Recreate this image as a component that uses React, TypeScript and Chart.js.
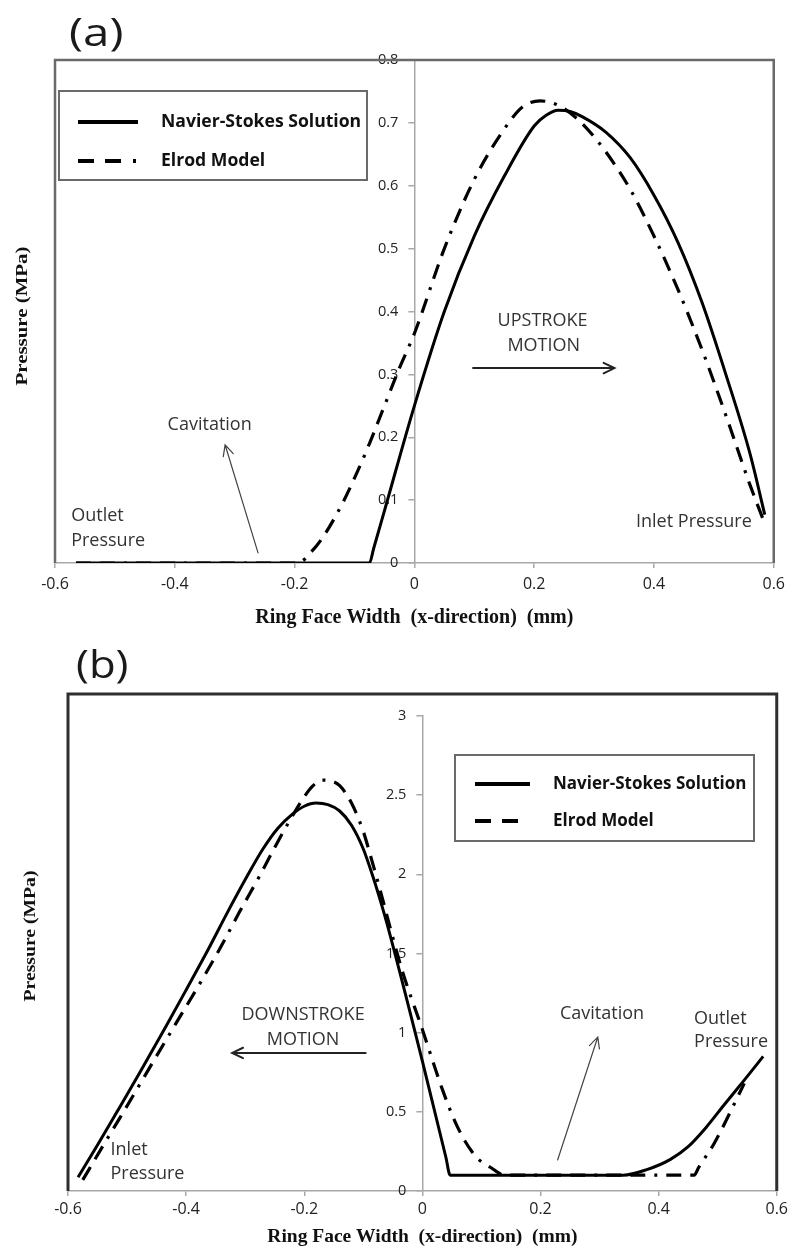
import React, { useEffect, useRef } from "react";
import { Chart, registerables } from "chart.js";

Chart.register(...registerables);

// ---------- Panel (a): upstroke ----------
const nsUpX = [-0.565, -0.075, -0.068, -0.05, 0, 0.05, 0.1, 0.15, 0.2, 0.22, 0.24, 0.26, 0.28, 0.32, 0.36, 0.4, 0.44, 0.48, 0.52, 0.56, 0.585];
const nsUpP = [0, 0, 0.023, 0.083, 0.25, 0.4, 0.52, 0.615, 0.695, 0.712, 0.72, 0.718, 0.71, 0.685, 0.645, 0.585, 0.51, 0.415, 0.3, 0.175, 0.077];
const elUpX = [-0.565, -0.195, -0.17, -0.15, -0.12, -0.1, -0.075, -0.05, -0.025, 0, 0.05, 0.1, 0.15, 0.18, 0.21, 0.24, 0.27, 0.3, 0.33, 0.36, 0.4, 0.44, 0.48, 0.52, 0.56, 0.582];
const elUpP = [0, 0, 0.02, 0.045, 0.095, 0.135, 0.19, 0.25, 0.31, 0.365, 0.5, 0.61, 0.69, 0.725, 0.735, 0.728, 0.708, 0.678, 0.64, 0.595, 0.52, 0.435, 0.34, 0.235, 0.125, 0.07];

// ---------- Panel (b): downstroke ----------
const nsDnX = [-0.583, -0.55, -0.517, -0.475, -0.434, -0.4, -0.362, -0.33, -0.298, -0.27, -0.245, -0.22, -0.2, -0.18, -0.16, -0.14, -0.12, -0.1, -0.085, -0.07, -0.06, 0, 0.04, 0.047, 0.34, 0.38, 0.42, 0.45, 0.48, 0.51, 0.545, 0.577];
const nsDnP = [0.087, 0.29, 0.5, 0.77, 1.04, 1.27, 1.53, 1.76, 1.98, 2.16, 2.29, 2.38, 2.43, 2.45, 2.44, 2.4, 2.31, 2.16, 2.0, 1.82, 1.69, 0.82, 0.21, 0.1, 0.1, 0.135, 0.2, 0.28, 0.4, 0.54, 0.7, 0.85];
const elDnX = [-0.575, -0.54, -0.506, -0.46, -0.417, -0.38, -0.34, -0.31, -0.277, -0.25, -0.223, -0.2, -0.185, -0.17, -0.155, -0.14, -0.12, -0.1, -0.085, -0.07, -0.05, -0.034, 0, 0.034, 0.06, 0.09, 0.115, 0.14, 0.46, 0.468, 0.494, 0.528, 0.545];
const elDnP = [0.07, 0.29, 0.5, 0.79, 1.06, 1.29, 1.55, 1.76, 1.98, 2.17, 2.35, 2.49, 2.56, 2.595, 2.59, 2.56, 2.45, 2.27, 2.08, 1.88, 1.6, 1.39, 1.02, 0.64, 0.4, 0.22, 0.15, 0.1, 0.1, 0.15, 0.3, 0.55, 0.68];

// ---------- Tick labels ----------
const xTickVals = [-0.6, -0.4, -0.2, 0, 0.2, 0.4, 0.6];
const yTickValsA = [0, 0.1, 0.2, 0.3, 0.4, 0.5, 0.6, 0.7, 0.8];
const yTickValsB = [0, 0.5, 1, 1.5, 2, 2.5, 3];

const seriesNames = ["Navier-Stokes Solution", "Elrod Model"];
const xTitle = "Ring Face Width  (x-direction)  (mm)";
const yTitle = "Pressure (MPa)";

type Note = { text: string; x: number; y: number; align: CanvasTextAlign };
type Arrow = { x1: number; y1: number; x2: number; y2: number; width: number; color: string };

const notesA: Note[] = [
  { text: "Outlet", x: -0.573, y: 0.075, align: "left" },
  { text: "Pressure", x: -0.573, y: 0.035, align: "left" },
  { text: "Cavitation", x: -0.412, y: 0.219, align: "left" },
  { text: "UPSTROKE", x: 0.214, y: 0.385, align: "center" },
  { text: "MOTION", x: 0.216, y: 0.345, align: "center" },
  { text: "Inlet Pressure", x: 0.37, y: 0.0655, align: "left" },
];
const arrowsA: Arrow[] = [
  { x1: -0.261, y1: 0.016, x2: -0.316, y2: 0.188, width: 1.2, color: "#444" },
  { x1: 0.098, y1: 0.31, x2: 0.334, y2: 0.31, width: 2, color: "#222" },
];
const notesB: Note[] = [
  { text: "Inlet", x: -0.528, y: 0.259, align: "left" },
  { text: "Pressure", x: -0.528, y: 0.107, align: "left" },
  { text: "DOWNSTROKE", x: -0.202, y: 1.11, align: "center" },
  { text: "MOTION", x: -0.202, y: 0.954, align: "center" },
  { text: "Cavitation", x: 0.233, y: 1.118, align: "left" },
  { text: "Outlet", x: 0.46, y: 1.086, align: "left" },
  { text: "Pressure", x: 0.46, y: 0.941, align: "left" },
];
const arrowsB: Arrow[] = [
  { x1: -0.096, y1: 0.872, x2: -0.322, y2: 0.872, width: 2, color: "#222" },
  { x1: 0.229, y1: 0.196, x2: 0.297, y2: 0.973, width: 1.2, color: "#444" },
];

interface LegendSpec {
  box: [number, number, number, number];
  sampleX: [number, number];
  rows: [number, number];
  textX: number;
  textSize: number;
}

interface PanelSpec {
  tag: string;
  tagPos: [number, number];
  tagWiden: number;
  height: number;
  pad: { left: number; right: number; top: number };
  axisHeight: number;
  xLabelPad: number;
  xTitleSize: number;
  xTitleBottom: number;
  yMax: number;
  yTicks: number[];
  ns: [number[], number[]];
  el: [number[], number[]];
  frameLift: number;
  frameColor: string;
  frameWidth: number;
  legend: LegendSpec;
  yTitlePos: [number, number];
  yTitleLen: number;
  notes: Note[];
  arrows: Arrow[];
}

const panelA: PanelSpec = {
  tag: "(a)",
  tagPos: [69, 35],
  tagWiden: 1.25,
  height: 640,
  pad: { left: 55, right: 15, top: 60 },
  axisHeight: 77,
  xLabelPad: 7,
  xTitleSize: 20,
  xTitleBottom: 10,
  yMax: 0.8,
  yTicks: yTickValsA,
  ns: [nsUpX, nsUpP],
  el: [elUpX, elUpP],
  frameLift: 0,
  frameColor: "#6a6a6a",
  frameWidth: 2.5,
  legend: { box: [59, 91, 367, 180], sampleX: [78, 138], rows: [122, 161], textX: 161, textSize: 17.6 },
  yTitlePos: [23, 316],
  yTitleLen: 139,
  notes: notesA,
  arrows: arrowsA,
};

const panelB: PanelSpec = {
  tag: "(b)",
  tagPos: [76, 27],
  tagWiden: 1.15,
  height: 612,
  pad: { left: 68, right: 12, top: 76 },
  axisHeight: 61,
  xLabelPad: 4,
  xTitleSize: 19.5,
  xTitleBottom: 3.5,
  yMax: 3,
  yTicks: yTickValsB,
  ns: [nsDnX, nsDnP],
  el: [elDnX, elDnP],
  frameLift: 22,
  frameColor: "#2e2e2e",
  frameWidth: 3,
  legend: { box: [455, 115, 754, 201], sampleX: [475, 530], rows: [144, 181], textX: 553, textSize: 17 },
  yTitlePos: [31, 296],
  yTitleLen: 131,
  notes: notesB,
  arrows: arrowsB,
};

const SANS = "'Open Sans', 'DejaVu Sans', sans-serif";
const SERIF = "'Liberation Serif', 'DejaVu Serif', serif";
const AXIS_GRAY = "#a8a8a8";
const ELROD_DASH = [15, 9, 15, 9, 3, 9];

function toPoints(xs: number[], ys: number[]) {
  return xs.map((x, i) => ({ x, y: ys[i] }));
}

function drawArrow(ctx: CanvasRenderingContext2D, x1: number, y1: number, x2: number, y2: number, width: number, color: string) {
  const ang = Math.atan2(y2 - y1, x2 - x1);
  const head = 12;
  const spread = Math.PI / 7;
  ctx.save();
  ctx.strokeStyle = color;
  ctx.lineWidth = width;
  ctx.lineCap = "round";
  ctx.beginPath();
  ctx.moveTo(x1, y1);
  ctx.lineTo(x2, y2);
  ctx.moveTo(x2 - head * Math.cos(ang - spread), y2 - head * Math.sin(ang - spread));
  ctx.lineTo(x2, y2);
  ctx.lineTo(x2 - head * Math.cos(ang + spread), y2 - head * Math.sin(ang + spread));
  ctx.stroke();
  ctx.restore();
}

function makeDecor(spec: PanelSpec) {
  return {
    id: "panelDecor",
    // the pressure axis crosses the width axis at x = 0; its labels sit just to the left
    afterLayout(chart: Chart) {
      const ys: any = chart.scales.y;
      const px = chart.scales.x.getPixelForValue(0);
      ys.left = px - 80;
      ys.right = px;
    },
    beforeDatasetsDraw(chart: Chart) {
      const { ctx, chartArea } = chart;
      const { left, right, top, bottom } = chartArea;
      ctx.save();
      ctx.strokeStyle = spec.frameColor;
      ctx.lineWidth = spec.frameWidth;
      ctx.lineJoin = "miter";
      ctx.beginPath();
      ctx.moveTo(left, bottom);
      ctx.lineTo(left, top - spec.frameLift);
      ctx.lineTo(right, top - spec.frameLift);
      ctx.lineTo(right, bottom);
      ctx.stroke();
      ctx.restore();
    },
    afterDraw(chart: Chart) {
      const { ctx } = chart;
      const xs = chart.scales.x;
      const ys = chart.scales.y;

      // panel tag
      ctx.save();
      ctx.fillStyle = "#1a1a1a";
      ctx.font = `38px ${SANS}`;
      ctx.textAlign = "left";
      ctx.textBaseline = "middle";
      ctx.translate(spec.tagPos[0], spec.tagPos[1]);
      ctx.scale(spec.tagWiden, 1);
      ctx.fillText(spec.tag, 0, 0);
      ctx.restore();

      // vertical axis title at the left edge of the panel
      ctx.save();
      ctx.font = `bold 16px ${SERIF}`;
      const w = ctx.measureText(yTitle).width;
      ctx.translate(spec.yTitlePos[0], spec.yTitlePos[1]);
      ctx.rotate(-Math.PI / 2);
      ctx.scale(spec.yTitleLen / w, 1);
      ctx.fillStyle = "#111";
      ctx.textAlign = "center";
      ctx.textBaseline = "middle";
      ctx.fillText(yTitle, 0, 0);
      ctx.restore();

      // legend
      const lg = spec.legend;
      ctx.save();
      ctx.fillStyle = "#fff";
      ctx.fillRect(lg.box[0], lg.box[1], lg.box[2] - lg.box[0], lg.box[3] - lg.box[1]);
      ctx.strokeStyle = "#6a6a6a";
      ctx.lineWidth = 2;
      ctx.strokeRect(lg.box[0], lg.box[1], lg.box[2] - lg.box[0], lg.box[3] - lg.box[1]);
      ctx.strokeStyle = "#000";
      ctx.lineWidth = 4;
      ctx.beginPath();
      ctx.moveTo(lg.sampleX[0], lg.rows[0]);
      ctx.lineTo(lg.sampleX[1], lg.rows[0]);
      ctx.stroke();
      ctx.setLineDash([16, 11, 16, 12, 3, 12]);
      ctx.beginPath();
      ctx.moveTo(lg.sampleX[0], lg.rows[1]);
      ctx.lineTo(lg.sampleX[1], lg.rows[1]);
      ctx.stroke();
      ctx.setLineDash([]);
      ctx.fillStyle = "#111";
      ctx.font = `bold ${lg.textSize}px ${SANS}`;
      ctx.textAlign = "left";
      ctx.textBaseline = "middle";
      ctx.fillText(seriesNames[0], lg.textX, lg.rows[0]);
      ctx.fillText(seriesNames[1], lg.textX, lg.rows[1]);
      ctx.restore();

      // annotations
      ctx.save();
      ctx.fillStyle = "#333";
      ctx.font = `18px ${SANS}`;
      ctx.textBaseline = "middle";
      for (const n of spec.notes) {
        ctx.textAlign = n.align;
        ctx.fillText(n.text, xs.getPixelForValue(n.x), ys.getPixelForValue(n.y));
      }
      ctx.restore();
      for (const a of spec.arrows) {
        drawArrow(
          ctx,
          xs.getPixelForValue(a.x1),
          ys.getPixelForValue(a.y1),
          xs.getPixelForValue(a.x2),
          ys.getPixelForValue(a.y2),
          a.width,
          a.color
        );
      }
    },
  };
}

function buildConfig(spec: PanelSpec): any {
  return {
    type: "line",
    data: {
      datasets: [
        {
          label: seriesNames[0],
          data: toPoints(spec.ns[0], spec.ns[1]),
          borderColor: "#000",
          borderWidth: 3,
          pointRadius: 0,
          fill: false,
          cubicInterpolationMode: "monotone",
        },
        {
          label: seriesNames[1],
          data: toPoints(spec.el[0], spec.el[1]),
          borderColor: "#000",
          borderWidth: 3.2,
          borderDash: ELROD_DASH,
          pointRadius: 0,
          fill: false,
          cubicInterpolationMode: "monotone",
        },
      ],
    },
    options: {
      animation: false,
      responsive: false,
      devicePixelRatio: 1,
      events: [],
      layout: { padding: { left: spec.pad.left, right: spec.pad.right, top: spec.pad.top, bottom: 0 } },
      plugins: { legend: { display: false }, tooltip: { enabled: false } },
      scales: {
        x: {
          type: "linear",
          min: -0.6,
          max: 0.6,
          afterBuildTicks: (s: any) => {
            s.ticks = xTickVals.map((value) => ({ value }));
          },
          afterFit: (s: any) => {
            s.height = spec.axisHeight;
          },
          ticks: {
            callback: (v: number) => String(v),
            font: { family: SANS, size: 16 },
            color: "#222",
            padding: spec.xLabelPad,
            maxRotation: 0,
            autoSkip: false,
          },
          grid: { display: true, drawOnChartArea: false, drawTicks: true, tickLength: 5, color: AXIS_GRAY, lineWidth: 1.5 },
          border: { display: true, color: AXIS_GRAY, width: 1.5 },
          title: {
            display: true,
            text: xTitle,
            font: { family: SERIF, size: spec.xTitleSize, weight: "bold" },
            color: "#111",
            padding: { top: 0, bottom: spec.xTitleBottom },
          },
        },
        y: {
          type: "linear",
          min: 0,
          max: spec.yMax,
          position: "left",
          afterFit: (s: any) => {
            s.width = 0;
          },
          afterBuildTicks: (s: any) => {
            s.ticks = spec.yTicks.map((value) => ({ value }));
          },
          ticks: {
            callback: (v: number) => String(v),
            font: { family: SANS, size: 14.5 },
            color: "#222",
            padding: 10,
          },
          grid: { display: true, drawOnChartArea: false, drawTicks: true, tickLength: 6, color: AXIS_GRAY, lineWidth: 1.5 },
          border: { display: true, color: AXIS_GRAY, width: 1.5 },
        },
      },
    },
    plugins: [makeDecor(spec)],
  };
}

function Panel({ spec, top }: { spec: PanelSpec; top: number }) {
  const ref = useRef<HTMLCanvasElement>(null);
  useEffect(() => {
    if (!ref.current) return;
    const chart = new Chart(ref.current, buildConfig(spec));
    return () => chart.destroy();
  }, [spec]);
  return (
    <canvas
      ref={ref}
      width={792}
      height={spec.height}
      style={{ position: "absolute", left: 0, top, width: 792, height: spec.height, display: "block" }}
    />
  );
}

export default function App() {
  return (
    <div style={{ position: "absolute", left: 0, top: 0, width: 792, height: 1252, background: "#fff", overflow: "hidden" }}>
      <Panel spec={panelA} top={0} />
      <Panel spec={panelB} top={640} />
    </div>
  );
}
